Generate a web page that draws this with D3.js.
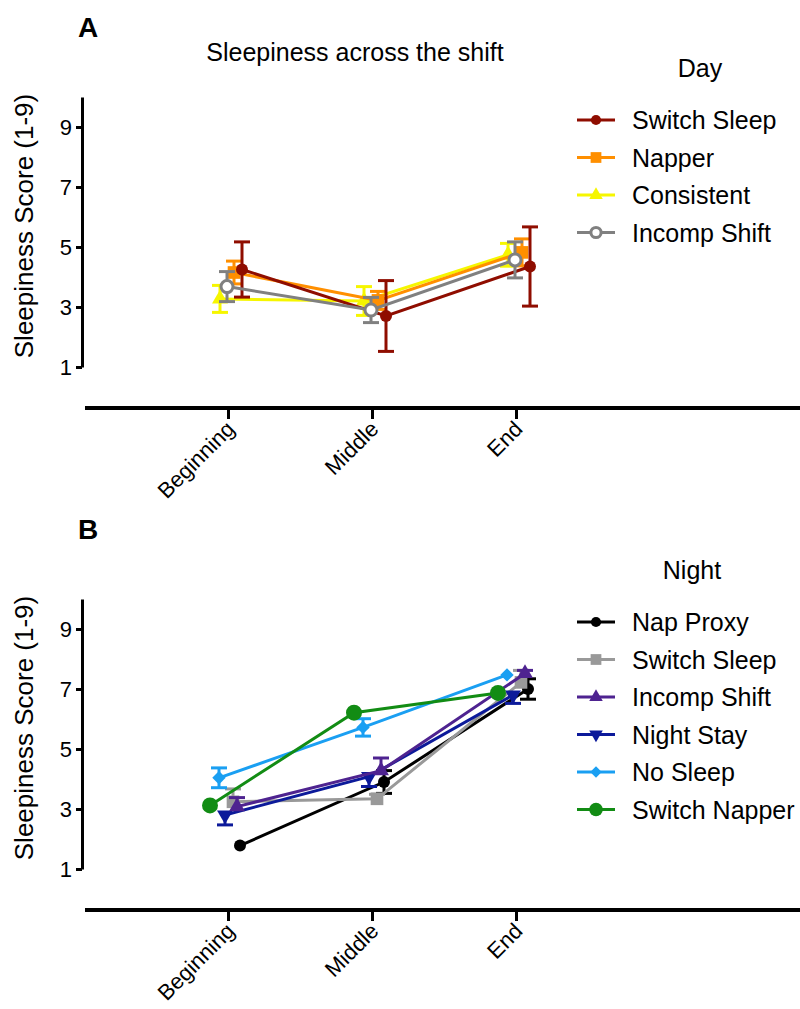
<!DOCTYPE html>
<html>
<head>
<meta charset="utf-8">
<script src="https://cdnjs.cloudflare.com/ajax/libs/d3/7.8.5/d3.min.js"></script>
<style>
  body { margin: 0; background: #fff; }
  text { font-family: "Liberation Sans", Arial, sans-serif; fill: #000; }
</style>
</head>
<body>
<div id="chart"></div>
<script>
// ---------- Data ---------- //
var phases = ["Beginning", "Middle", "End"];
var yTicks = [1, 3, 5, 7, 9];

// Day shift : mean and error bar
var daySwitchSleep = [4.25, 2.70, 4.35];
var daySwitchSleepErr = [0.92, 1.18, 1.32];
var dayNapper = [4.15, 3.22, 4.82];
var dayNapperErr = [0.38, 0.30, 0.45];
var dayConsistent = [3.27, 3.20, 4.74];
var dayConsistentErr = [0.45, 0.48, 0.38];
var dayIncomp = [3.68, 2.90, 4.57];
var dayIncompErr = [0.50, 0.42, 0.60];

// Night shift : mean and error bar
var nightNapProxy = [1.78, 3.90, 7.00];
var nightNapProxyErr = [0, 0.38, 0.34];
var nightSwitchSleep = [3.24, 3.34, 7.22];
var nightSwitchSleepErr = [0.43, 0.15, 0.40];
var nightIncomp = [3.08, 4.28, 7.52];
var nightIncompErr = [0.30, 0.42, 0.10];
var nightStay = [2.80, 4.08, 6.80];
var nightStayErr = [0.33, 0.33, 0.28];
var nightNoSleep = [4.04, 5.72, 7.47];
var nightNoSleepErr = [0.33, 0.29, 0];
var nightSwitchNapper = [3.12, 6.21, 6.87];
var nightSwitchNapperErr = [0, 0, 0];

// ---------- Series config ---------- //
// draw order = array order, legend order = legend field
var daySeries = [
  {name: "Consistent",   values: dayConsistent,  err: dayConsistentErr,  color: "#f6f600", shape: "triangle", dx: -8, dir: "both", legend: 2},
  {name: "Napper",       values: dayNapper,      err: dayNapperErr,      color: "#ff8f00", shape: "square",   dx: 6,  dir: "both", legend: 1},
  {name: "Switch Sleep", values: daySwitchSleep, err: daySwitchSleepErr, color: "#8f0d00", shape: "circle",   dx: 14, dir: "both", legend: 0},
  {name: "Incomp Shift", values: dayIncomp,      err: dayIncompErr,      color: "#808080", shape: "open",     dx: -1, dir: "both", legend: 3}
];

var nightSeries = [
  {name: "Nap Proxy",     values: nightNapProxy,     err: nightNapProxyErr,     color: "#000000", shape: "circle",   dx: 12, dir: "both", legend: 0},
  {name: "Switch Sleep",  values: nightSwitchSleep,  err: nightSwitchSleepErr,  color: "#999999", shape: "square",   dx: 5,  dir: "up",   legend: 1},
  {name: "Night Stay",    values: nightStay,         err: nightStayErr,         color: "#0c1a9a", shape: "tridown",  dx: -3, dir: "down", legend: 3},
  {name: "Incomp Shift",  values: nightIncomp,       err: nightIncompErr,       color: "#4e2390", shape: "triangle", dx: 9,  dir: "up",   legend: 2},
  {name: "No Sleep",      values: nightNoSleep,      err: nightNoSleepErr,      color: "#1a9ff2", shape: "diamond",  dx: -9, dir: "both", legend: 4},
  {name: "Switch Napper", values: nightSwitchNapper, err: nightSwitchNapperErr, color: "#128c14", shape: "big",      dx: -18, dir: "both", legend: 5}
];

var width = 800;
var height = 1009;

var svg = d3.select("#chart")
            .append("svg")
            .attr("width", width)
            .attr("height", height);

// ---------- Markers ---------- //
var drawMarker = function(g, shape, color, cx, cy, scale) {
  scale = scale || 1;
  if (shape == "circle" || shape == "big" || shape == "open") {
    var r = (shape == "big" ? 8 : 6) * scale;
    g.append("circle")
      .attr("cx", cx).attr("cy", cy).attr("r", r)
      .attr("fill", shape == "open" ? "#fff" : color)
      .attr("stroke", shape == "open" ? color : "none")
      .attr("stroke-width", 3);
    return;
  }
  var sym, size, rot = 0;
  if (shape == "square")   { sym = d3.symbolSquare;   size = 160; }
  if (shape == "diamond")  { sym = d3.symbolSquare;   size = 90; rot = 45; }
  if (shape == "triangle") { sym = d3.symbolTriangle; size = 110; }
  if (shape == "tridown")  { sym = d3.symbolTriangle; size = 110; rot = 180; }
  g.append("path")
    .attr("d", d3.symbol().type(sym).size(size * scale * scale)())
    .attr("transform", "translate(" + cx + "," + cy + ") rotate(" + rot + ")")
    .attr("fill", color);
};

// ---------- Panel ---------- //
var drawPanel = function(top, letter, title, legendTitle, legendTitleX, series) {
  var axisY = top + 408;

  var x = d3.scalePoint()
            .domain(phases)
            .range([228, 516]);

  var y = d3.scaleLinear()
            .domain([1, 10])
            .range([top + 367, top + 97]);

  var g = svg.append("g");

  // y axis
  var yAxis = g.append("g")
               .attr("transform", "translate(82,0)")
               .call(d3.axisLeft(y).tickValues(yTicks).tickSize(6).tickSizeOuter(0).tickPadding(4));
  yAxis.selectAll("path, line").attr("stroke", "#000").attr("stroke-width", 3);
  yAxis.selectAll("text").attr("font-size", 22).attr("font-family", "Liberation Sans, Arial, sans-serif");

  // x axis
  var xAxis = g.append("g")
               .attr("transform", `translate(0,${axisY})`)
               .call(d3.axisBottom(x).tickSize(11).tickSizeOuter(0));
  xAxis.select(".domain").remove();
  xAxis.append("line")
       .attr("x1", 85).attr("x2", width)
       .attr("y1", 0).attr("y2", 0)
       .attr("stroke", "#000").attr("stroke-width", 4);
  xAxis.selectAll(".tick line").attr("stroke", "#000").attr("stroke-width", 3);
  xAxis.selectAll(".tick text")
       .attr("font-size", 22)
       .attr("font-family", "Liberation Sans, Arial, sans-serif")
       .attr("text-anchor", "end")
       .attr("y", 0)
       .attr("dy", "0.35em")
       .attr("transform", "translate(2,17) rotate(-45)");

  // y label
  g.append("text")
    .attr("transform", `translate(33,${top + 226}) rotate(-90)`)
    .attr("text-anchor", "middle")
    .attr("font-size", 26)
    .text("Sleepiness Score (1-9)");

  // panel letter
  g.append("text")
    .attr("x", 78).attr("y", top + 37)
    .attr("font-size", 28).attr("font-weight", "bold")
    .text(letter);

  if (title) {
    g.append("text")
      .attr("x", 355).attr("y", top + 61)
      .attr("text-anchor", "middle")
      .attr("font-size", 25)
      .text(title);
  }

  // series : lines, error bars, markers
  series.forEach(function(s) {
    var sg = g.append("g");
    var pts = phases.map(function(p, i) {
      return {x: x(p) + s.dx, v: s.values[i], e: s.err[i]};
    });

    sg.append("path")
      .datum(pts)
      .attr("fill", "none")
      .attr("stroke", s.color)
      .attr("stroke-width", 3)
      .attr("d", d3.line().x(d => d.x).y(d => y(d.v)));

    pts.forEach(function(d) {
      if (d.e <= 0) return;
      var hi = s.dir == "down" ? d.v : d.v + d.e;
      var lo = s.dir == "up" ? d.v : d.v - d.e;
      sg.append("line")
        .attr("x1", d.x).attr("x2", d.x)
        .attr("y1", y(hi)).attr("y2", y(lo))
        .attr("stroke", s.color).attr("stroke-width", 3);
      var caps = [];
      if (s.dir != "down") caps.push(hi);
      if (s.dir != "up") caps.push(lo);
      caps.forEach(function(c) {
        sg.append("line")
          .attr("x1", d.x - 8).attr("x2", d.x + 8)
          .attr("y1", y(c)).attr("y2", y(c))
          .attr("stroke", s.color).attr("stroke-width", 3);
      });
    });

    pts.forEach(function(d) {
      drawMarker(sg, s.shape, s.color, d.x, y(d.v));
    });
  });

  // legend
  var lg = g.append("g");
  lg.append("text")
    .attr("x", legendTitleX).attr("y", top + 77)
    .attr("text-anchor", "middle")
    .attr("font-size", 25)
    .text(legendTitle);

  var ordered = series.slice().sort((a, b) => a.legend - b.legend);
  ordered.forEach(function(s, i) {
    var ly = top + 120 + i * 37.5;
    lg.append("line")
      .attr("x1", 577).attr("x2", 615)
      .attr("y1", ly).attr("y2", ly)
      .attr("stroke", s.color).attr("stroke-width", 3);
    drawMarker(lg, s.shape, s.color, 596, ly, 0.85);
    lg.append("text")
      .attr("x", 632).attr("y", ly)
      .attr("dy", "0.36em")
      .attr("font-size", 25)
      .text(s.name);
  });
};

drawPanel(0, "A", "Sleepiness across the shift", "Day", 700, daySeries);
drawPanel(502, "B", null, "Night", 692, nightSeries);
</script>
</body>
</html>
